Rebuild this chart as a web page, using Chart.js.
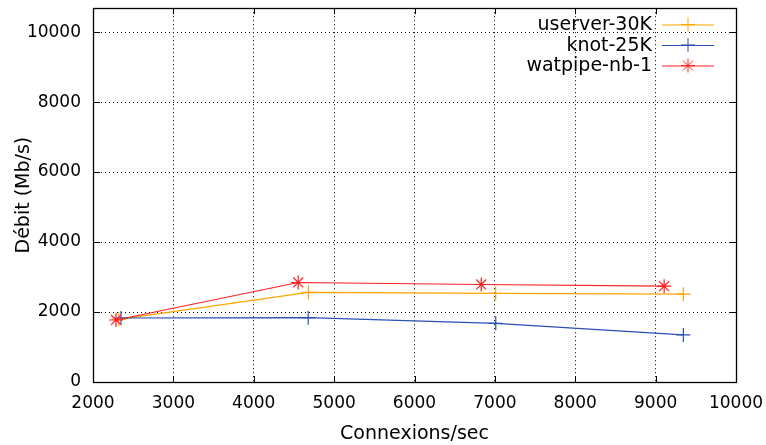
<!DOCTYPE html>
<html>
<head>
<meta charset="utf-8">
<script src="https://cdn.jsdelivr.net/npm/chart.js@4.4.1/dist/chart.umd.min.js"></script>
<style>
  html, body { margin: 0; padding: 0; background: #fff; }
  #wrap { width: 766px; height: 445px; position: relative; }
</style>
</head>
<body>
<div id="wrap"><canvas id="c" width="766" height="445"></canvas></div>
<script>
// ---- Data ----
const seriesNames = ["userver-30K", "knot-25K", "watpipe-nb-1"];
const userverX = [2320, 4680, 7010, 9345];
const userverY = [1790, 2560, 2531, 2511];
const knotX    = [2348, 4677, 7011, 9345];
const knotY    = [1829, 1837, 1678, 1345];
const watpipeX = [2286, 4553, 6830, 9106];
const watpipeY = [1772, 2844, 2787, 2739];
const xTicks = [2000, 3000, 4000, 5000, 6000, 7000, 8000, 9000, 10000];
const yTicks = [0, 2000, 4000, 6000, 8000, 10000];
const xTitle = "Connexions/sec";
const yTitle = "Débit (Mb/s)";

const FONT = "'DejaVu Sans', sans-serif";
const colors = ["#ffa500", "#2a4fb5", "#ff2020"];
const styles = ["cross", "cross", "star"];

function pts(xs, ys) { return xs.map((x, i) => ({ x: x, y: ys[i] })); }

const frame = {
  id: 'frame',
  afterDatasetsDraw(chart) {
    const ctx = chart.ctx, a = chart.chartArea;
    const xs = chart.scales.x, ys = chart.scales.y;
    ctx.save();
    ctx.strokeStyle = '#000';
    ctx.lineWidth = 1;
    ctx.setLineDash([]);
    ctx.beginPath();
    xTicks.forEach(v => {
      const p = Math.round(xs.getPixelForValue(v)) + 0.5;
      ctx.moveTo(p, a.bottom); ctx.lineTo(p, a.bottom - 6);
      ctx.moveTo(p, a.top); ctx.lineTo(p, a.top + 6);
    });
    yTicks.forEach(v => {
      const p = Math.round(ys.getPixelForValue(v)) + 0.5;
      ctx.moveTo(a.left, p); ctx.lineTo(a.left + 7, p);
      ctx.moveTo(a.right, p); ctx.lineTo(a.right - 7, p);
    });
    ctx.stroke();
    ctx.lineWidth = 1.3;
    ctx.strokeRect(Math.round(a.left) + 0.5, Math.round(a.top) + 0.5,
                   Math.round(a.right - a.left), Math.round(a.bottom - a.top));
    ctx.font = "19px " + FONT;
    ctx.textAlign = 'right';
    ctx.textBaseline = 'middle';
    const rows = [24.5, 45, 65.5];
    chart.data.datasets.forEach((ds, i) => {
      const y = rows[i];
      ctx.fillStyle = '#000';
      ctx.fillText(ds.label, 652, y + 1);
      ctx.strokeStyle = ds.borderColor;
      ctx.lineWidth = 1;
      ctx.beginPath();
      ctx.moveTo(662, y + 0.5); ctx.lineTo(714, y + 0.5);
      ctx.stroke();
      const r = 7, cx = 688;
      ctx.beginPath();
      ctx.moveTo(cx, y - r); ctx.lineTo(cx, y + r);
      ctx.moveTo(cx - r, y); ctx.lineTo(cx + r, y);
      if (ds.pointStyle === 'star') {
        const d = r * 0.7071;
        ctx.moveTo(cx - d, y - d); ctx.lineTo(cx + d, y + d);
        ctx.moveTo(cx - d, y + d); ctx.lineTo(cx + d, y - d);
      }
      ctx.stroke();
    });
    ctx.restore();
  }
};

const datasets = [
  { label: seriesNames[0], data: pts(userverX, userverY), order: 2 },
  { label: seriesNames[1], data: pts(knotX, knotY), order: 1 },
  { label: seriesNames[2], data: pts(watpipeX, watpipeY), order: 0 }
].map((d, i) => Object.assign(d, {
  borderColor: colors[i],
  backgroundColor: colors[i],
  pointBorderColor: colors[i],
  borderWidth: 1.2,
  pointStyle: styles[i],
  pointRadius: 7,
  pointBorderWidth: 1.2,
  pointHoverRadius: 7,
  tension: 0,
  fill: false
}));

new Chart(document.getElementById('c'), {
  type: 'line',
  data: { datasets: datasets },
  plugins: [frame],
  options: {
    responsive: false,
    animation: false,
    events: [],
    layout: { padding: { top: 7, right: 30, left: 0, bottom: 0 } },
    plugins: { legend: { display: false }, tooltip: { enabled: false } },
    scales: {
      x: {
        type: 'linear',
        min: 2000, max: 10000,
        afterBuildTicks: s => { s.ticks = xTicks.map(v => ({ value: v })); },
        afterFit: s => { s.height = 63; s.paddingLeft = 0; s.paddingRight = 0; },
        ticks: { color: '#000', font: { family: FONT, size: 17 }, padding: 11, maxRotation: 0, autoSkip: false,
                 callback: v => String(v) },
        grid: { color: '#000', lineWidth: 1, drawTicks: false },
        border: { display: false, dash: [1, 3] },
        title: { display: true, text: xTitle, color: '#000', font: { family: FONT, size: 19 }, padding: { top: 2, bottom: 0 } }
      },
      y: {
        type: 'linear',
        min: 0, max: 10683,
        afterBuildTicks: s => { s.ticks = yTicks.map(v => ({ value: v })); },
        afterFit: s => { s.width = 93; s.paddingTop = 0; s.paddingBottom = 0; },
        ticks: { color: '#000', font: { family: FONT, size: 17 }, padding: 12, autoSkip: false,
                 callback: v => String(v) },
        grid: { color: '#000', lineWidth: 1, drawTicks: false },
        border: { display: false, dash: [1, 3] },
        title: { display: true, text: yTitle, color: '#000', font: { family: FONT, size: 19 }, padding: { top: 13, bottom: 0 } }
      }
    }
  }
});
</script>
</body>
</html>
